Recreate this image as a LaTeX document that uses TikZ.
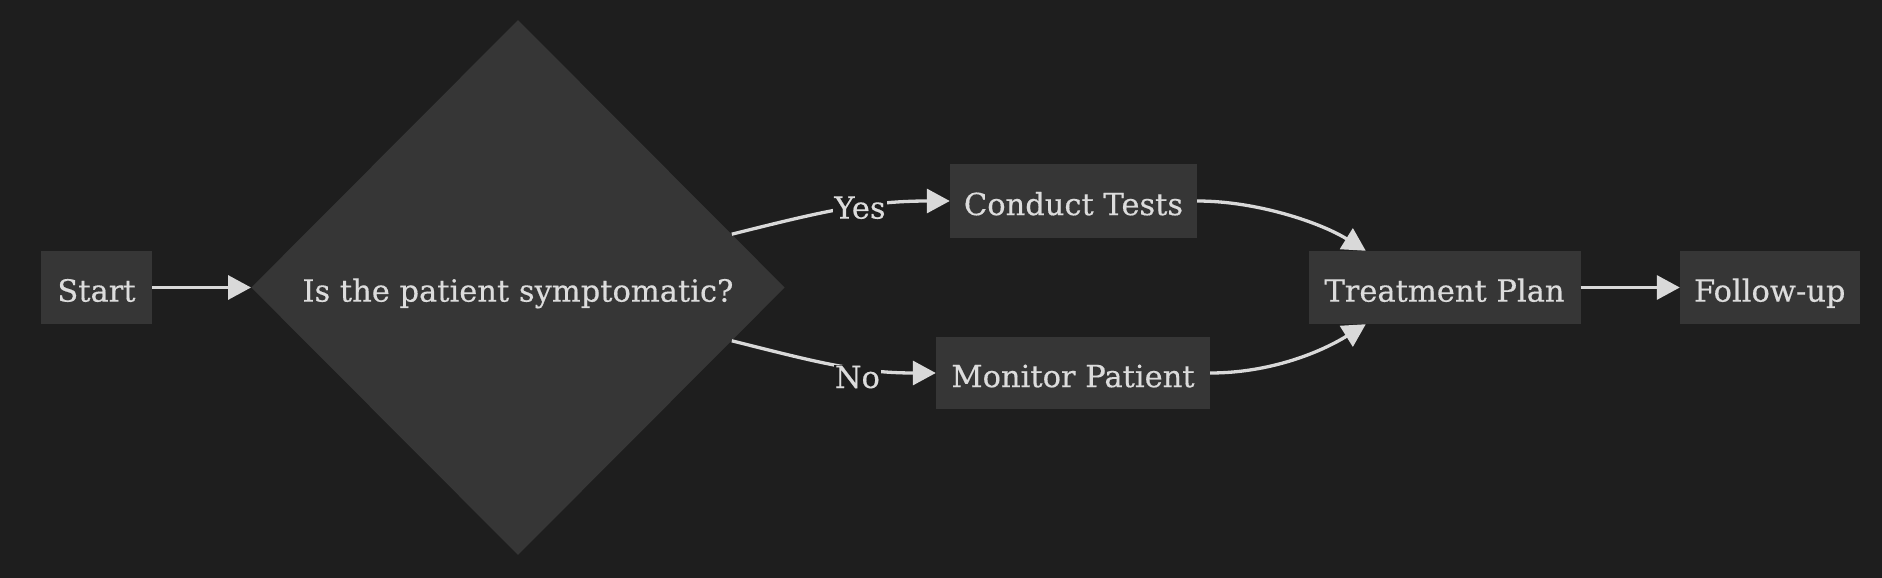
\documentclass[tikz,border=0pt]{standalone}
\usepackage{fontspec}
\setmainfont[FakeBold=0.4]{DejaVu Serif}
\usetikzlibrary{shapes.geometric,arrows.meta}
\definecolor{bg}{HTML}{1E1E1E}
\definecolor{nodefill}{HTML}{363636}
\definecolor{txt}{HTML}{DCDCDC}
\definecolor{edgecol}{HTML}{D9D9D9}
\begin{document}
\begin{tikzpicture}[x=1pt,y=-1pt,
  box/.style={rectangle, fill=nodefill, text=txt, inner sep=0pt,
    text height=30pt, text depth=1.8pt,
    font=\fontsize{30.5}{36}\selectfont},
  decision/.style={diamond, aspect=1, fill=nodefill, text=txt, inner sep=0pt,
    text height=30pt, text depth=1.8pt,
    font=\fontsize{30.5}{36}\selectfont},
  conn/.style={draw=edgecol, line width=3.3pt, -{Triangle[length=23pt,width=24pt]}},
  lbl/.style={fill=bg, text=txt, inner sep=1pt, font=\fontsize{30.5}{36}\selectfont}]
\useasboundingbox[fill=bg] (0,0) rectangle (1882,578);

\node[box, minimum width=111pt, minimum height=73pt] (start) at (96.5,287.5) {Start};
\node[decision, minimum width=533.5pt, minimum height=535pt] (dec) at (518,287.5) {Is the patient symptomatic?};
\node[box, minimum width=247pt, minimum height=74pt] (ct) at (1073.5,201) {Conduct Tests};
\node[box, minimum width=274pt, minimum height=72pt] (mp) at (1073,373) {Monitor Patient};
\node[box, minimum width=272pt, minimum height=73pt] (tp) at (1444.5,287.5) {Treatment Plan};
\node[box, minimum width=179.5pt, minimum height=73pt] (fu) at (1769.75,287.5) {Follow-up};

\draw[conn] (start) -- (dec);
\draw[conn] (dec.14) to[out=14,in=180] node[lbl, pos=0.6, yshift=-1pt] {Yes} (ct.west);
\draw[conn] (dec.-14) to[out=-14,in=180] node[lbl, pos=0.63, yshift=-9pt] {No} (mp.west);
\draw[conn] (ct.east) .. controls +(60,0) and +(-45,-28) .. (tp.155);
\draw[conn] (mp.east) .. controls +(60,0) and +(-45,28) .. (tp.205);
\draw[conn] (tp) -- (fu);
\end{tikzpicture}
\end{document}
